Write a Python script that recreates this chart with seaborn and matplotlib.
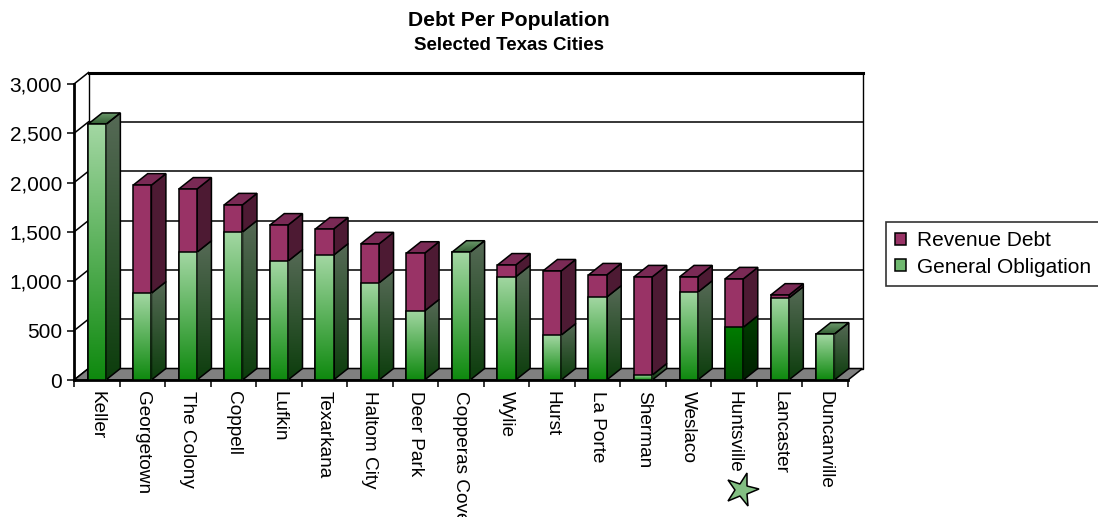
import numpy as np
import matplotlib
matplotlib.use('Agg')
import matplotlib.pyplot as plt
import seaborn as sns
from matplotlib.colors import LinearSegmentedColormap
from matplotlib.patches import Polygon, Patch
from matplotlib.markers import MarkerStyle
from matplotlib.transforms import Affine2D, blended_transform_factory
from matplotlib.ticker import FuncFormatter

# data (dollars per capita)
CITIES = ['Keller', 'Georgetown', 'The Colony', 'Coppell', 'Lufkin', 'Texarkana',
          'Haltom City', 'Deer Park', 'Copperas Cove', 'Wylie', 'Hurst', 'La Porte',
          'Sherman', 'Weslaco', 'Huntsville', 'Lancaster', 'Duncanville']
GENERAL_OBLIGATION = [2590, 880, 1295, 1500, 1205, 1265, 985, 700, 1295, 1045,
                      455, 840, 50, 890, 535, 830, 465]
REVENUE_DEBT = [0, 1095, 640, 275, 365, 265, 395, 585, 0, 120,
                650, 225, 995, 155, 490, 30, 0]
TOTAL = [g + r for g, r in zip(GENERAL_OBLIGATION, REVENUE_DEBT)]
Y_TICKS = [0, 500, 1000, 1500, 2000, 2500, 3000]
HIGHLIGHT = 'Huntsville'

plt.rcParams['font.family'] = ['Liberation Sans', 'DejaVu Sans']

# colours
REV = '#993366'
REV_SIDE = '#4d1a33'
REV_TOP = '#7a2a55'
GO_FRONT = ('#a3d7a3', '#0e890e')   # top, bottom
GO_SIDE = ('#566a56', '#0c3d0c')
GO_TOP = ('#6f9c6f', '#335f33')
HL_FRONT = ('#007c00', '#005300')
HL_SIDE = ('#003d00', '#002000')

# layout in pixels: front plane of the plot box and the oblique depth
W, H = 1098, 517
FRONT_L, FRONT_R, FRONT_T, FRONT_B = 74, 848, 84, 380
DEPTH_X, DEPTH_Y = 14.5, 11.5

fig = plt.figure(figsize=(W / 100, H / 100), dpi=100)
ax = fig.add_axes([FRONT_L / W, 1 - FRONT_B / H,
                   (FRONT_R + DEPTH_X - FRONT_L) / W,
                   (FRONT_B - FRONT_T + DEPTH_Y) / H])

n = len(CITIES)
ymax = Y_TICKS[-1]
dx = DEPTH_X / ((FRONT_R - FRONT_L) / n)
dy = DEPTH_Y / ((FRONT_B - FRONT_T) / ymax)
bw = 0.4
LW = 1.1


def shade(patch, top, bottom, z):
    # vertical gradient clipped to a patch, patch keeps only the outline
    patch.set_facecolor('none')
    patch.set_edgecolor('black')
    patch.set_linewidth(LW)
    patch.set_zorder(z + 0.5)
    ext = patch.get_path().transformed(patch.get_patch_transform()).vertices \
        if hasattr(patch, 'get_patch_transform') else patch.get_xy()
    xs, ys = ext[:, 0], ext[:, 1]
    cmap = LinearSegmentedColormap.from_list('g', [bottom, top])
    im = ax.imshow(np.linspace(0, 1, 256).reshape(-1, 1), cmap=cmap, origin='lower',
                   extent=[xs.min(), xs.max(), ys.min(), ys.max()],
                   aspect='auto', interpolation='bilinear', zorder=z)
    im.set_clip_path(patch)


# back wall, gridlines and left-wall diagonals
ax.add_patch(Polygon([(-0.5 + dx, dy), (n - 0.5 + dx, dy), (n - 0.5 + dx, ymax + dy),
                      (-0.5 + dx, ymax + dy)], closed=True, facecolor='white',
                     edgecolor='black', lw=1.0, zorder=1, clip_on=False))
for v in Y_TICKS:
    ax.plot([-0.5, -0.5 + dx], [v, v + dy], color='black', lw=1.1, zorder=1.5, clip_on=False)
    if 0 < v < ymax:
        ax.plot([-0.5 + dx, n - 0.5 + dx], [v + dy, v + dy], color='black', lw=1.1,
                zorder=1.5, clip_on=False)
ax.plot([-0.5 + dx, n - 0.5 + dx], [ymax + dy, ymax + dy], color='black', lw=2.2,
        zorder=1.6, clip_on=False)

# floor
ax.add_patch(Polygon([(-0.5, 0), (n - 0.5, 0), (n - 0.5 + dx, dy), (-0.5 + dx, dy)],
                     closed=True, facecolor='#808080', edgecolor='black', lw=1.1,
                     zorder=2, clip_on=False))

# front faces via seaborn: total in revenue colour, general obligation over it
sns.barplot(x=CITIES, y=TOTAL, color=REV, saturation=1, width=bw,
            edgecolor='black', linewidth=LW, ax=ax, zorder=4)
sns.barplot(x=CITIES, y=GENERAL_OBLIGATION, color=GO_FRONT[0], saturation=1, width=bw,
            edgecolor='black', linewidth=LW, ax=ax, zorder=4)
go_front = ax.patches[-n:]
for i, p in enumerate(go_front):
    hl = CITIES[i] == HIGHLIGHT
    shade(p, *(HL_FRONT if hl else GO_FRONT), z=4.6)

# side and top faces
for i, (city, go, tot) in enumerate(zip(CITIES, GENERAL_OBLIGATION, TOTAL)):
    hl = city == HIGHLIGHT
    xr = i + bw / 2
    side_go = Polygon([(xr, 0), (xr + dx, dy), (xr + dx, go + dy), (xr, go)], closed=True)
    ax.add_patch(side_go)
    shade(side_go, *(HL_SIDE if hl else GO_SIDE), z=3)
    if tot > go:
        ax.add_patch(Polygon([(xr, go), (xr + dx, go + dy), (xr + dx, tot + dy), (xr, tot)],
                             closed=True, facecolor=REV_SIDE, edgecolor='black',
                             lw=LW, zorder=3.5))
    top = Polygon([(i - bw / 2, tot), (xr, tot), (xr + dx, tot + dy),
                   (i - bw / 2 + dx, tot + dy)], closed=True)
    ax.add_patch(top)
    if tot > go:
        top.set_facecolor(REV_TOP)
        top.set_edgecolor('black')
        top.set_linewidth(LW)
        top.set_zorder(3.5)
    else:
        shade(top, *GO_TOP, z=3)

# axes, ticks and labels
for s in ['top', 'right']:
    ax.spines[s].set_visible(False)
ax.spines['left'].set_bounds(0, ymax)
ax.spines['bottom'].set_bounds(-0.5, n - 0.5)
for s in ['left', 'bottom']:
    ax.spines[s].set_linewidth(2)
    ax.spines[s].set_color('black')
    ax.spines[s].set_zorder(2.5)

ax.set_yticks(Y_TICKS)
ax.yaxis.set_major_formatter(FuncFormatter(lambda v, _: f'{v:,.0f}'))
ax.tick_params(axis='y', left=True, length=5, width=1.1, pad=3.5, labelsize=15,
               colors='black', direction='out')
ax.set_xticks(np.arange(n + 1) - 0.5, labels=[''] * (n + 1))
ax.set_xticks(np.arange(n), labels=CITIES, minor=True, rotation=-90, fontsize=13.7)
ax.tick_params(axis='x', which='major', bottom=True, length=5, width=1.1, direction='out')
ax.tick_params(axis='x', which='minor', bottom=True, length=0, pad=8, labelcolor='black')
ax.set_xlabel('')
ax.set_ylabel('')
ax.set_facecolor('none')
ax.set_autoscale_on(False)
ax.set_xlim(-0.5, n - 0.5 + dx)
ax.set_ylim(0, ymax + dy)

# star under the highlighted city
star = MarkerStyle('*', transform=Affine2D().rotate_deg(-16))
ax.plot([CITIES.index(HIGHLIGHT) + 0.18], [1 - 490 / H], marker=star, markersize=25,
        markerfacecolor='#82bf82', markeredgecolor='black', markeredgewidth=1.1,
        transform=blended_transform_factory(ax.transData, fig.transFigure), clip_on=False)

# titles
fig.text(509 / W, 1 - 21 / H, 'Debt Per Population', ha='center', va='center',
         fontsize=15.2, fontweight='bold')
fig.text(509 / W, 1 - 45 / H, 'Selected Texas Cities', ha='center', va='center',
         fontsize=13.5, fontweight='bold')

# legend
handles = [Patch(facecolor=REV, edgecolor='black', lw=1.1),
           Patch(facecolor='#6fb86f', edgecolor='black', lw=1.1)]
leg = fig.legend(handles, ['Revenue Debt', 'General Obligation'], loc='upper left',
                 bbox_to_anchor=(886 / W, 1 - 222 / H), fontsize=15, frameon=True,
                 fancybox=False, handlelength=0.5, handleheight=0.5,
                 handletextpad=0.55, labelspacing=0.35, borderpad=0.45,
                 borderaxespad=0)
leg.get_frame().set_edgecolor('black')
leg.get_frame().set_linewidth(1.2)

fig.savefig('out.png', dpi=100)
